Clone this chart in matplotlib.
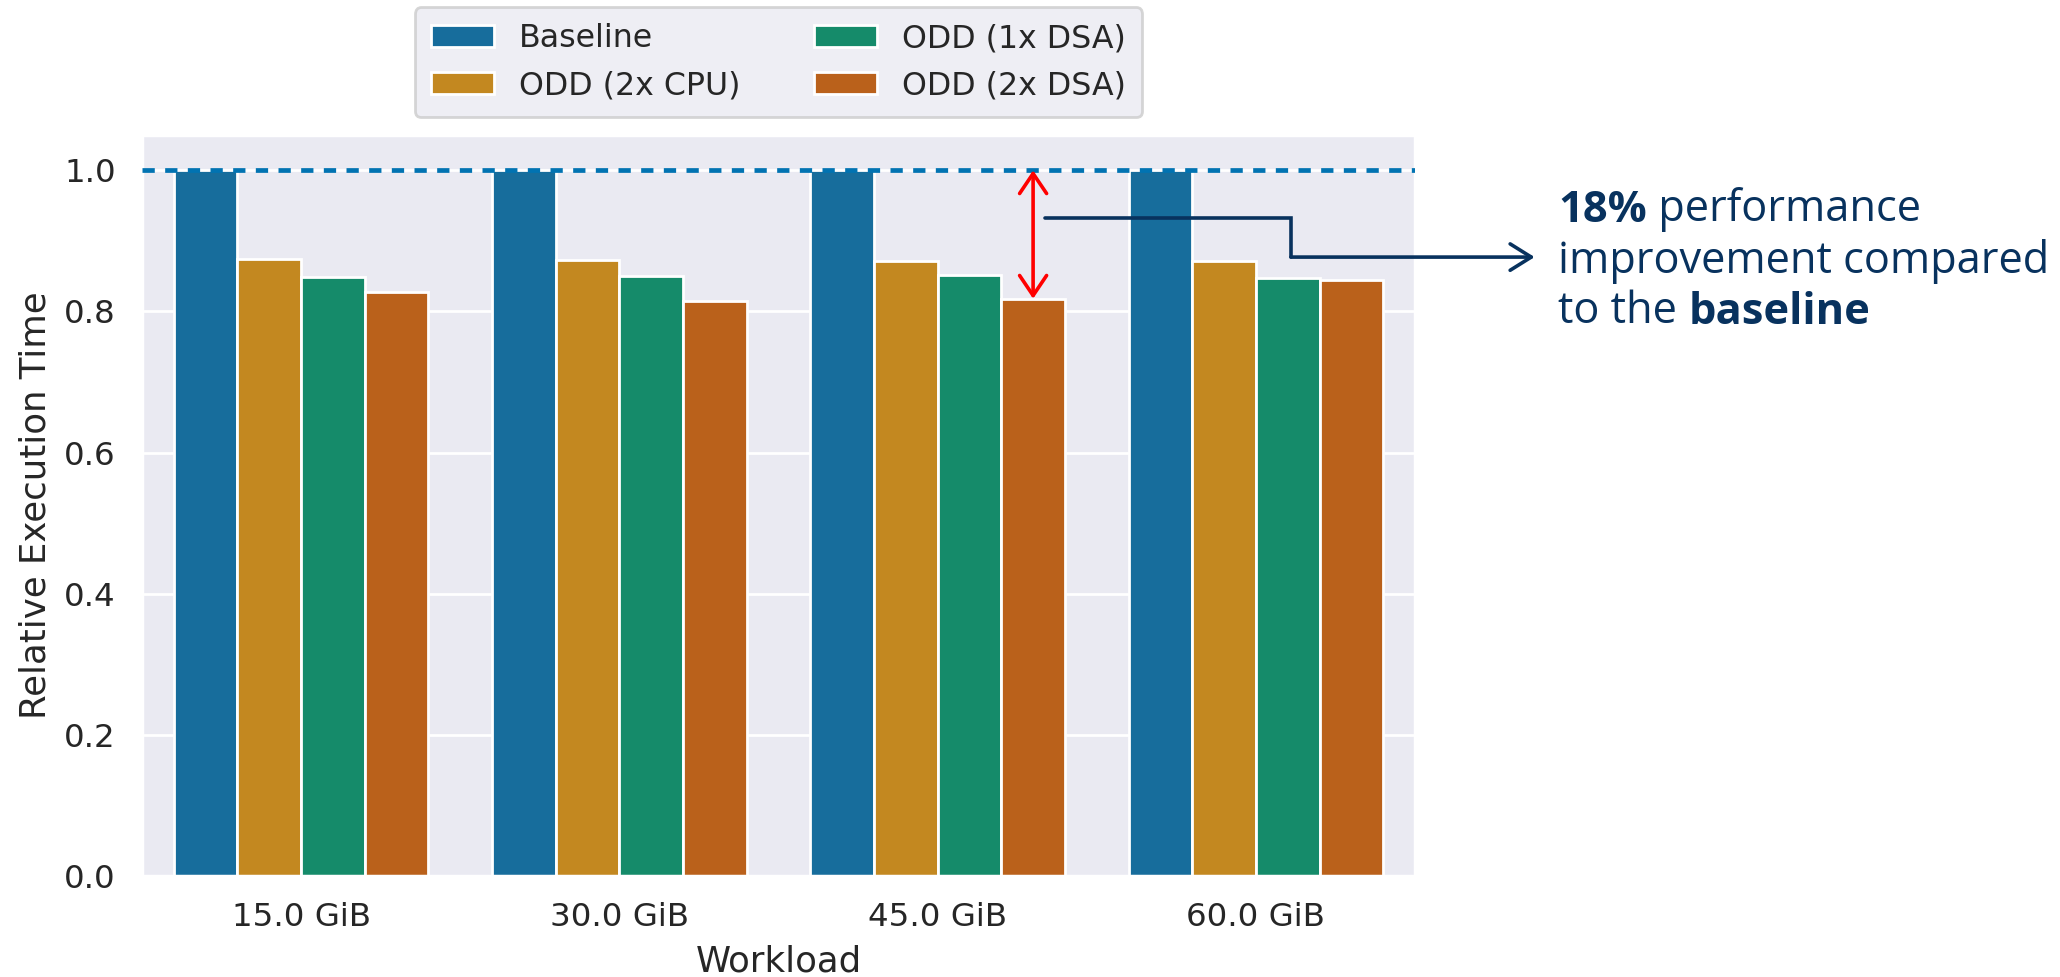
import numpy as np
import matplotlib
matplotlib.use("Agg")
import matplotlib.pyplot as plt
import seaborn as sns

# Relative execution time per workload size, normalised to the baseline
workloads = ["15.0 GiB", "30.0 GiB", "45.0 GiB", "60.0 GiB"]
series_names = ["Baseline", "ODD (2x CPU)", "ODD (1x DSA)", "ODD (2x DSA)"]
baseline = [1.0, 1.0, 1.0, 1.0]
odd_2x_cpu = [0.874, 0.873, 0.871, 0.871]
odd_1x_dsa = [0.849, 0.850, 0.851, 0.847]
odd_2x_dsa = [0.828, 0.815, 0.818, 0.845]
highlight_group = 2  # 45.0 GiB

sns.set_theme(context="notebook", style="darkgrid", palette="colorblind")
plt.rcParams["font.family"] = ["DejaVu Sans"]

palette = sns.color_palette("colorblind", 4)
bar_colors = [sns.desaturate(c, 0.75) for c in palette]

fig = plt.figure(figsize=(10.3, 4.885), dpi=200)
ax = fig.add_axes([142 / 2060, 1 - 876 / 977, 1273 / 2060, 741 / 977])

series = [baseline, odd_2x_cpu, odd_1x_dsa, odd_2x_dsa]
n = len(series)
width = 0.8 / n
x = np.arange(len(workloads))
for i, (name, vals) in enumerate(zip(series_names, series)):
    offs = (i - (n - 1) / 2) * width
    ax.bar(x + offs, vals, width=width, color=bar_colors[i],
           edgecolor="white", linewidth=1.0, label=name, zorder=2)

ax.set_xlim(-0.5, len(workloads) - 0.5)
ax.set_ylim(0, 1.05)
ax.set_yticks(np.arange(0, 1.01, 0.2))
ax.set_xticks(x)
ax.set_xticklabels(workloads)
ax.tick_params(axis="both", labelsize=11.7)
ax.grid(False, axis="x")
ax.set_xlabel("Workload", fontsize=12.8)
ax.set_ylabel("Relative Execution Time", fontsize=12.8)

# reference level of the baseline
ax.axhline(1.0, color=palette[0], linestyle=(0, (2.6, 2.2)), linewidth=1.7,
           zorder=3)

ax.legend(ncol=2, loc="lower center", bbox_to_anchor=(0.5, 1.003),
          fontsize=11.4, columnspacing=2.3, borderpad=0.5)

# improvement marker on the highlighted workload
xa = highlight_group + (n - 1) / 2 * width
ya = odd_2x_dsa[highlight_group]
ax.annotate("", xy=(xa, 1.0), xytext=(xa, ya),
            arrowprops=dict(arrowstyle="<->,head_length=0.4,head_width=0.27",
                            color="red", lw=1.3,
                            mutation_scale=18, shrinkA=0, shrinkB=0),
            zorder=4)

navy = "#08325e"
path_x = [2.337, 3.11, 3.11]
path_y = [0.933, 0.933, 0.877]
ax.plot(path_x, path_y, color=navy, lw=1.3, clip_on=False, zorder=4,
        solid_joinstyle="miter")
ax.annotate("", xy=(3.876, 0.877), xytext=(3.11, 0.877),
            arrowprops=dict(arrowstyle="->,head_length=0.4,head_width=0.25",
                            color=navy, lw=1.3,
                            mutation_scale=19, shrinkA=0, shrinkB=0),
            annotation_clip=False, zorder=4)

# callout text
pct = round((1 - odd_2x_dsa[highlight_group]) * 100)
fs = 15.6
tx = 1558 / 2060
tkw = dict(fontsize=fs, color=navy, family="Open Sans", va="baseline", ha="left")
t1 = fig.text(tx, 1 - 222 / 977, f"{pct}%", fontweight="bold", **tkw)
ax.annotate(" performance", xy=(1, 0), xycoords=t1, fontsize=fs, color=navy,
            family="Open Sans", va="bottom", ha="left")
fig.text(tx, 1 - 273 / 977, "improvement compared", **tkw)
t3 = fig.text(tx, 1 - 323 / 977, "to the ", **tkw)
ax.annotate("baseline", xy=(1, 0), xycoords=t3, fontsize=fs, color=navy,
            family="Open Sans", fontweight="bold", va="bottom", ha="left")

fig.savefig("out.png", dpi=200)
